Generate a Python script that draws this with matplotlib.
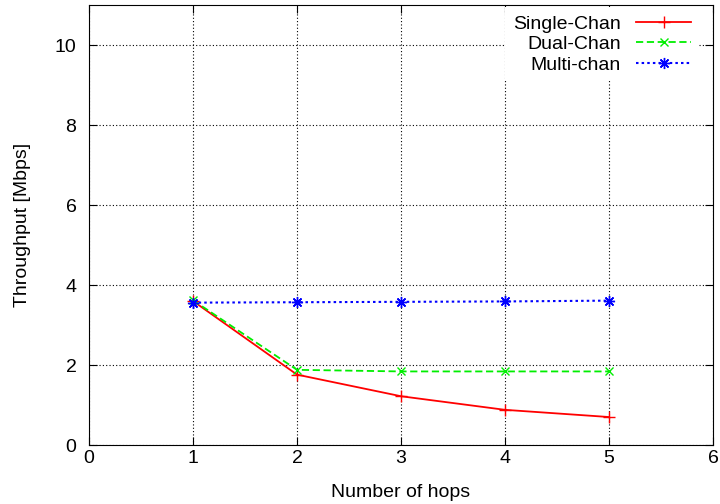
import matplotlib
matplotlib.use('Agg')
import matplotlib.pyplot as plt

# dados
hops = [1, 2, 3, 4, 5]
single_chan = [3.60, 1.76, 1.22, 0.88, 0.70]
dual_chan = [3.62, 1.88, 1.84, 1.84, 1.84]
multi_chan = [3.56, 3.57, 3.58, 3.59, 3.61]

plt.rcParams['font.family'] = ['Liberation Sans', 'DejaVu Sans']
plt.rcParams['font.size'] = 14

fig = plt.figure(figsize=(7.2, 5.04), dpi=100)
ax = fig.add_axes([0.1236, 0.117, 0.8667, 0.873])

ax.plot(hops, single_chan, color='#ff0000', linestyle='-', marker='+', markersize=8,
        linewidth=1.3, label='Single-Chan')
ax.plot(hops, dual_chan, color='#00ee00', linestyle=(0, (4, 2)), marker='x', markersize=6,
        linewidth=1.3, label='Dual-Chan')
ax.plot(hops, multi_chan, color='#0000ff', linestyle=(0, (1.2, 1.5)), marker=(8, 2, 0),
        markersize=8, linewidth=1.5, label='Multi-chan')

ax.set_xlim(0, 6)
ax.set_ylim(0, 11)
ax.set_xticks(range(0, 7))
ax.set_yticks(range(0, 11, 2))
ax.tick_params(direction='in', top=True, right=True, length=6, labelsize=14)
ax.tick_params(axis='y', pad=9)
ax.grid(True, color='black', linestyle=(0, (1, 2)), linewidth=0.8)
ax.set_axisbelow(True)

ax.set_xlabel('Number of hops', fontsize=14, labelpad=12)
ax.set_ylabel('Throughput [Mbps]', fontsize=14, labelpad=17)

leg = ax.legend(loc='upper right', bbox_to_anchor=(0.977, 0.995), markerfirst=False,
                frameon=True, fancybox=False, edgecolor='white', framealpha=1,
                fontsize=14, handlelength=2.8, labelspacing=0.15, borderaxespad=0,
                borderpad=0.4, handletextpad=0.8)
leg.get_frame().set_linewidth(0)
for t in leg.get_texts():
    t.set_ha('right')

fig.savefig('out.png', dpi=100)
